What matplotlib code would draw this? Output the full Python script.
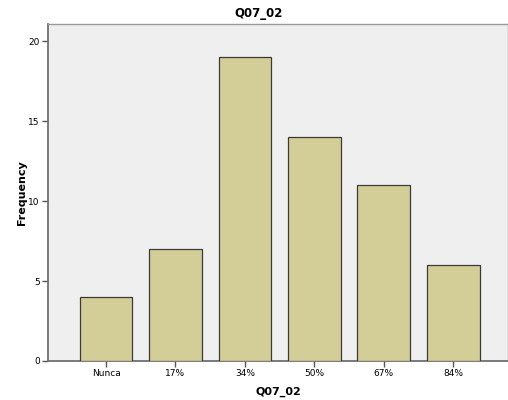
import matplotlib
matplotlib.use("Agg")
import matplotlib.pyplot as plt

# valori
categorii = ['Nunca', '17%', '34%', '50%', '67%', '84%']
frecvente = [4, 7, 19, 14, 11, 6]
y_ticks = [0, 5, 10, 15, 20]

fig = plt.figure(figsize=(5.08, 4.00), dpi=100)
ax = fig.add_axes([0.0945, 0.0975, 0.9055, 0.8435])
ax.set_facecolor('#EFEFEF')

x = range(len(categorii))
ax.bar(x, frecvente, width=0.76, color='#D3CE98', edgecolor='#3A3A3A', linewidth=0.9, zorder=3)

ax.set_xlim(-0.836, 5.79)
ax.set_ylim(0, 21.1)
ax.set_xticks(list(x))
ax.set_xticklabels(categorii, fontsize=6.5)
ax.set_yticks(y_ticks)
ax.set_yticklabels([str(v) for v in y_ticks], fontsize=6.5)
ax.tick_params(axis='both', length=4, width=1, color='#555555', pad=2)

for s in ['left', 'bottom']:
    ax.spines[s].set_color('#707070')
    ax.spines[s].set_linewidth(1.3)
for s in ['top', 'right']:
    ax.spines[s].set_color('#9A9A9A')
    ax.spines[s].set_linewidth(1.0)

ax.set_xlabel('Q07_02', fontsize=8, fontweight='bold', labelpad=6)
ax.set_ylabel('Frequency', fontsize=8, fontweight='bold', labelpad=1)
fig.text(0.508, 0.967, 'Q07_02', ha='center', va='center', fontsize=8.5, fontweight='bold')

fig.savefig('out.png', dpi=100)
